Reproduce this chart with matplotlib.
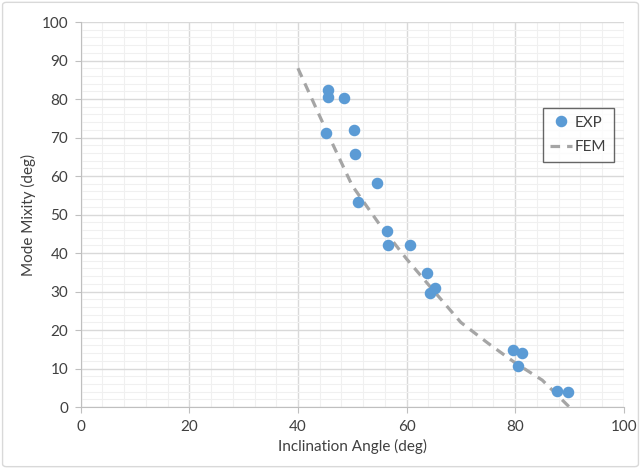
"""
Mode mixity versus inclination angle: experiments against FEM.
"""
import matplotlib
matplotlib.use("Agg")
from matplotlib import pyplot as plt
from matplotlib.patches import FancyBboxPatch
from matplotlib.ticker import MultipleLocator


# experimental points (inclination angle, mode mixity), both in deg
EXP_ANGLE = [45.5, 45.5, 48.4, 45.1, 50.3, 50.6, 54.5, 51.0, 56.4, 56.6,
             60.6, 63.7, 64.3, 65.2, 79.7, 81.2, 80.5, 87.7, 89.7]
EXP_MIXITY = [82.3, 80.5, 80.3, 71.2, 71.9, 65.7, 58.2, 53.2, 45.7, 42.1,
              42.1, 34.8, 29.6, 30.9, 14.8, 14.0, 10.6, 4.2, 3.9]

# FEM prediction
FEM_ANGLE = [40, 45, 50, 55, 60, 65, 70, 75, 80, 85, 90]
FEM_MIXITY = [88.0, 72.5, 57.5, 47.5, 38.5, 30.2, 22.0, 16.6, 11.5, 7.0, 0.0]

BLUE = "#5b9bd5"
GREY = "#a5a5a5"


if __name__ == "__main__":
    plt.rcParams["font.family"] = ["Lato", "DejaVu Sans"]
    fig = plt.figure(figsize=(6.41, 4.69), dpi=100)
    ax = fig.add_axes([0.126, 0.132, 0.847, 0.821])

    # chart area frame
    fig.patches.append(FancyBboxPatch(
        (0.004, 0.005), 0.992, 0.99, boxstyle="round,pad=0,rounding_size=0.006",
        transform=fig.transFigure, fill=False, edgecolor="#d9d9d9", lw=1.0,
    ))

    ax.plot(EXP_ANGLE, EXP_MIXITY, "o", color=BLUE, ms=7.3, mec=BLUE,
            label="EXP", zorder=3)
    ax.plot(FEM_ANGLE, FEM_MIXITY, "--", color=GREY, lw=2.3,
            dashes=(3, 2.2), label="FEM", zorder=2)

    ax.set_xlim(0, 100)
    ax.set_ylim(0, 100)
    ax.xaxis.set_major_locator(MultipleLocator(20))
    ax.xaxis.set_minor_locator(MultipleLocator(4))
    ax.yaxis.set_major_locator(MultipleLocator(10))
    ax.yaxis.set_minor_locator(MultipleLocator(2))
    ax.grid(which="major", color="#d9d9d9", lw=1.0)
    ax.grid(which="minor", color="#f0f0f0", lw=0.8)
    ax.set_axisbelow(True)

    for side in ("top", "right"):
        ax.spines[side].set_visible(False)
    for side in ("left", "bottom"):
        ax.spines[side].set_color("#bfbfbf")
    ax.tick_params(which="major", length=4, color="#bfbfbf",
                   labelsize=11, labelcolor="#404040", pad=5)
    ax.tick_params(which="minor", length=0)

    ax.set_xlabel("Inclination Angle (deg)", fontsize=11, color="#404040")
    ax.set_ylabel("Mode Mixity (deg)", fontsize=11, color="#404040")

    leg = ax.legend(loc="upper left", bbox_to_anchor=(0.851, 0.777),
                    borderaxespad=0, fontsize=11, frameon=True,
                    fancybox=False, handlelength=1.4, handletextpad=0.2,
                    borderpad=0.5, labelspacing=0.7)
    leg.get_frame().set_edgecolor("#404040")
    leg.get_frame().set_linewidth(1.0)
    for text in leg.get_texts():
        text.set_color("#404040")

    fig.savefig("out.png", dpi=100)
